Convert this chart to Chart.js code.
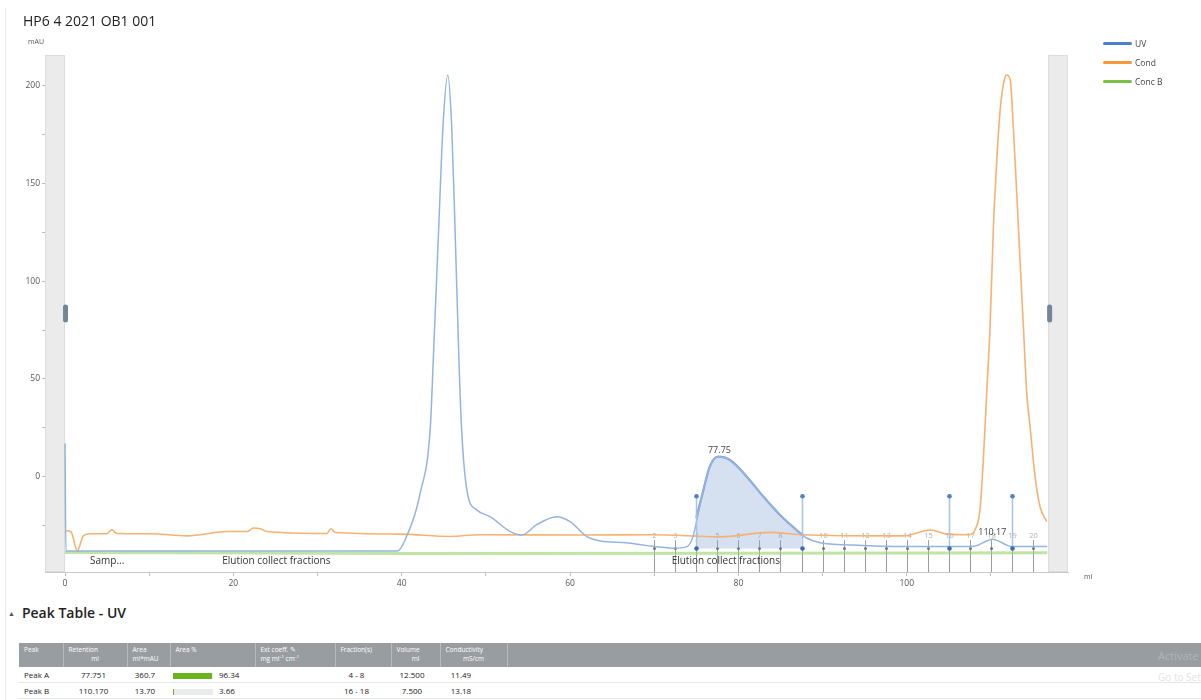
<!DOCTYPE html>
<html>
<head>
<meta charset="utf-8">
<title>HP6 4 2021 OB1 001</title>
<script src="https://cdn.jsdelivr.net/npm/chart.js@4.4.1/dist/chart.umd.min.js"></script>
<style>
  body { margin: 0; background: #fff; font-family: "Open Sans", "Noto Sans", sans-serif; color: #222; }
  #page { position: relative; width: 1201px; height: 700px; overflow: hidden; }
  #edge { position: absolute; left: 5px; top: 8px; width: 1px; height: 692px; background: #ececec; }
  #chart { position: absolute; left: 0; top: 0; }
  #title { position: absolute; left: 23px; top: 11px; font-size: 14px; color: #222; }
  .axisTitle { position: absolute; font-size: 7px; color: #555; }
  #legend { position: absolute; left: 1103px; top: 34px; font-size: 8.5px; color: #444; }
  #legend div { height: 19px; display: flex; align-items: center; }
  #legend .line { display: inline-block; width: 29px; height: 3px; border-radius: 2px; margin-right: 3px; }
  #ptTitle { position: absolute; left: 8px; top: 603px; font-size: 14px; font-weight: 600; color: #222; }
  #ptTitle .tri { font-size: 7px; margin-right: 7px; vertical-align: 2px; color: #555; }
  table { position: absolute; left: 19px; top: 643px; border-collapse: collapse; table-layout: fixed; width: 1182px; font-size: 8px; color: #222; }
  th { background: #9a9d9f; color: #fff; font-weight: normal; font-size: 6.5px; height: 20px; text-align: left; vertical-align: top;
       padding: 2px 5px; border-right: 1px solid #b8babc; line-height: 9px; white-space: nowrap; }
  th .u { display: block; text-align: center; }
  td { height: 15px; padding: 0 5px; border-bottom: 1px solid #e6e6e6; white-space: nowrap; text-align: center; }
  td.l { text-align: left; }
  .track { display: inline-block; width: 40px; height: 6px; background: #e9ebec; vertical-align: middle; margin-right: 6px; }
  .fillbar { display: block; height: 6px; background: #6ab31f; }
  .wm { position: absolute; left: 1158px; font-size: 11px; color: rgba(255,255,255,0.25); white-space: nowrap; }
</style>
</head>
<body>
<div id="page">
  <div id="edge"></div>
  <canvas id="chart" width="1201" height="600"></canvas>
  <div id="title">HP6 4 2021 OB1 001</div>
  <div class="axisTitle" style="left:28px; top:37px;">mAU</div>
  <div class="axisTitle" style="left:1084px; top:572px;">ml</div>
  <div id="legend"></div>
  <div id="ptTitle"><span class="tri">▲</span>Peak Table - UV</div>
  <table id="peakTable">
    <colgroup>
      <col style="width:44px"><col style="width:64px"><col style="width:43px"><col style="width:85px">
      <col style="width:80px"><col style="width:56px"><col style="width:49px"><col style="width:67px"><col>
    </colgroup>
    <thead>
      <tr>
        <th>Peak</th>
        <th>Retention<span class="u">ml</span></th>
        <th>Area<br>ml*mAU</th>
        <th>Area %</th>
        <th>Ext coeff. ✎<br>mg ml⁻¹ cm⁻¹</th>
        <th>Fraction(s)</th>
        <th>Volume<span class="u">ml</span></th>
        <th>Conductivity<span class="u">mS/cm</span></th>
        <th style="border-right:none"></th>
      </tr>
    </thead>
    <tbody id="peakRows"></tbody>
  </table>
  <div class="wm" style="top:648px;">Activate Windows</div>
  <div class="wm" style="top:670px; color:#e4e4e4; font-size:10px;">Go to Settings</div>
</div>

<script>
// series names and colours
const seriesNames = ['UV', 'Cond', 'Conc B'];
const legendColors = ['#4a80cc', '#f39a3c', '#7cc242'];
const curveColors = ['#94b4df', '#f6b272', 'rgba(150,210,105,0.6)'];

// UV curve (ml, mAU)
const uvMl = [0, 0.1, 10, 20, 30, 39.5, 40.4, 42.2, 43.4, 43.75, 44.4, 44.9, 45.47, 45.94, 46.33, 46.8, 47.1, 47.8,
  48.9, 50.5, 52.9, 54.3, 56.0, 58.4, 60.0, 62.0, 63.6, 66.7, 69.1, 72.3, 73.9, 74.6, 75.65, 76.6, 77.6, 79.0,
  81.0, 82.96, 84.95, 86.9, 88.1, 89.7, 93.6, 100, 105, 108, 110.2, 112.5, 116.7];
const uvMau = [17, -38.0, -38.0, -38.0, -38.0, -38.0, -32.4, -8.3, 25.4, 59.7, 127.8, 179, 205.6, 179, 127.8, 59.7, 25.4, -8.3,
  -17.0, -20.5, -28.1, -29.8, -24.7, -20.5, -23.0, -30.7, -32.9, -33.8, -35.3, -36.6, -35.8, -30.7, -10.2, 5.1, 10.2, 8.5,
  0, -10.2, -19.6, -27.3, -31.4, -33.8, -35.0, -35.8, -35.8, -35.6, -32.0, -35.8, -35.8];

// Peak A shaded region (fractions 4 - 8)
const peakAMl = [75, 75.65, 76.6, 77.6, 79.0, 81.0, 82.96, 84.95, 86.9, 87.5];
const peakAMau = [-21, -10.2, 5.1, 10.2, 8.5, 0, -10.2, -19.6, -27.3, -29.5];
const peakABase = -36.8;

// Cond curve
const condMl = [0, 0.7, 1.46, 2.17, 3.0, 4.95, 5.55, 6.14, 10.1, 14.5, 19.2, 21.6, 22.4, 23.2, 24.0, 31.1, 31.6, 32.1,
  39.8, 45.7, 49.3, 61.2, 69.9, 77.8, 83.8, 87.5, 99.6, 102.8, 104.75, 107.5, 108.1, 108.7, 109.1, 109.5, 109.9,
  110.3, 110.7, 111.1, 111.7, 111.9, 112.3, 112.66, 113.07, 113.46, 113.86, 114.26, 114.65, 115.25, 115.84, 116.63];
const condVal = [-27.7, -28.2, -37.9, -30.3, -29.2, -29.2, -27.2, -29.1, -29.2, -30.3, -28.1, -28.1, -26.3, -26.7, -28.1, -29.1, -26.7, -28.6,
  -29.4, -30.6, -29.7, -29.9, -29.7, -30.8, -28.5, -29.7, -30.3, -27.3, -29.4, -29.7, -27.3, -17, 8.5, 42.7, 76.8,
  128, 162, 187.7, 204.7, 205.6, 203, 179.1, 145, 110.9, 76.8, 42.7, 25.6, 0, -15.4, -23];

// Conc B curve
const concBMl = [0, 40, 80, 116.7];
const concBVal = [-38.8, -39.3, -39.2, -38.9];

// axes
const xTicks = [0, 10, 20, 30, 40, 50, 60, 70, 80, 90, 100, 110];
const yTicks = [-25, 0, 25, 50, 75, 100, 125, 150, 175, 200];
const runEndMl = 116.8;

// fractions and peak marks
const fractionMl = [70, 72.5, 75, 77.5, 80, 82.5, 85, 87.5, 90, 92.5, 95, 97.5, 100, 102.5, 105, 107.5, 110, 112.5, 115];
const fractionNames = ['2', '3', '4', '5', '6', '7', '8', '9', '10', '11', '12', '13', '14', '15', '16', '17', '18', '19', '20'];
const peakMarkerMl = [75, 87.5, 105, 112.5];
const peakLabelMl = [77.75, 110.17];
const peakLabelTop = [10.2, -32.0];
const peakLabels = ['77.75', '110.17'];
const eventMl = [5.0, 25.1, 78.5];
const eventNames = ['Samp...', 'Elution collect fractions', 'Elution collect fractions'];

// peak table
const tablePeak = ['Peak A', 'Peak B'];
const tableRetention = ['77.751', '110.170'];
const tableArea = ['360.7', '13.70'];
const tableAreaPct = [96.34, 3.66];
const tableFractions = ['4 - 8', '16 - 18'];
const tableVolume = ['12.500', '7.500'];
const tableCond = ['11.49', '13.18'];

function pts(xs, ys) {
  return xs.map((v, i) => ({ x: v, y: ys[i] }));
}

// legend
const legend = document.getElementById('legend');
seriesNames.forEach((n, i) => {
  legend.innerHTML += `<div><span class="line" style="background:${legendColors[i]}"></span>${n}</div>`;
});

// table rows
const rows = document.getElementById('peakRows');
tablePeak.forEach((p, i) => {
  rows.innerHTML += `<tr>
    <td class="l">${p}</td>
    <td style="padding-right:8px">${tableRetention[i]}</td>
    <td style="padding-right:12px">${tableArea[i]}</td>
    <td class="l" style="padding-left:3px"><span class="track"><span class="fillbar" style="width:${tableAreaPct[i] * 0.4}px"></span></span>${tableAreaPct[i].toFixed(2)}</td>
    <td></td>
    <td style="padding-right:18px">${tableFractions[i]}</td>
    <td style="padding-right:12px">${tableVolume[i]}</td>
    <td style="padding-right:30px">${tableCond[i]}</td>
    <td></td>
  </tr>`;
});

const overlay = {
  id: 'overlay',
  beforeDatasetsDraw(chart) {
    const { ctx, chartArea: a, scales: { x, y } } = chart;
    ctx.save();
    // zoom range bars
    const x0 = x.getPixelForValue(0);
    const xr = x.getPixelForValue(runEndMl);
    ctx.fillStyle = '#ebebeb';
    ctx.fillRect(a.left, a.top, x0 - a.left, a.bottom - a.top);
    ctx.fillRect(xr, a.top, a.right - xr, a.bottom - a.top);
    ctx.strokeStyle = '#dcdcdc';
    ctx.lineWidth = 1;
    ctx.strokeRect(a.left + 0.5, a.top + 0.5, x0 - a.left - 1, a.bottom - a.top - 1);
    ctx.strokeRect(xr + 0.5, a.top + 0.5, a.right - xr - 1, a.bottom - a.top - 1);
    const mid = (a.top + a.bottom) / 2;
    ctx.fillStyle = '#74859a';
    ctx.beginPath();
    ctx.roundRect(x0 - 2, mid - 9, 5, 18, 2.5);
    ctx.roundRect(xr - 1, mid - 9, 5, 18, 2.5);
    ctx.fill();

    // fraction lines
    ctx.font = '7.5px "Open Sans"';
    ctx.textAlign = 'center';
    ctx.textBaseline = 'middle';
    fractionMl.forEach((f, i) => {
      const px = Math.round(x.getPixelForValue(f)) + 0.5;
      ctx.strokeStyle = '#9c9c9c';
      ctx.beginPath();
      ctx.moveTo(px, y.getPixelForValue(-32.5));
      ctx.lineTo(px, a.bottom);
      ctx.stroke();
      ctx.fillStyle = '#b0b0b0';
      ctx.fillText(fractionNames[i], px, y.getPixelForValue(-30.3));
      ctx.fillStyle = '#66768a';
      ctx.beginPath();
      ctx.arc(px, y.getPixelForValue(peakABase), 1.5, 0, Math.PI * 2);
      ctx.fill();
    });

    // run log events
    ctx.font = '10px "Open Sans"';
    ctx.fillStyle = '#333';
    eventNames.forEach((t, i) => {
      ctx.fillText(t, x.getPixelForValue(eventMl[i]), y.getPixelForValue(-43.2));
    });
    ctx.restore();
  },
  afterDatasetsDraw(chart) {
    const { ctx, scales: { x, y } } = chart;
    ctx.save();
    peakMarkerMl.forEach(m => {
      const px = Math.round(x.getPixelForValue(m)) + 0.5;
      const top = y.getPixelForValue(-10);
      const bot = y.getPixelForValue(peakABase);
      ctx.strokeStyle = '#a9c3e7';
      ctx.lineWidth = 1.5;
      ctx.beginPath();
      ctx.moveTo(px, top);
      ctx.lineTo(px, bot);
      ctx.stroke();
      ctx.fillStyle = '#4f81c7';
      ctx.beginPath();
      ctx.arc(px, top, 2.3, 0, Math.PI * 2);
      ctx.fill();
      ctx.fillStyle = '#3c6cb2';
      ctx.beginPath();
      ctx.arc(px, bot, 2.3, 0, Math.PI * 2);
      ctx.fill();
    });
    ctx.font = '9px "Open Sans"';
    ctx.fillStyle = '#444';
    ctx.textAlign = 'center';
    ctx.textBaseline = 'bottom';
    peakLabels.forEach((t, i) => {
      ctx.fillText(t, x.getPixelForValue(peakLabelMl[i]), y.getPixelForValue(peakLabelTop[i]) - 2);
    });
    ctx.restore();
  }
};

Chart.defaults.font.family = '"Open Sans", "Noto Sans", sans-serif';

new Chart(document.getElementById('chart'), {
  type: 'line',
  data: {
    datasets: [
      { label: 'UV', data: pts(uvMl, uvMau), borderColor: curveColors[0], borderWidth: 1.5 },
      { label: 'Cond', data: pts(condMl, condVal), borderColor: curveColors[1], borderWidth: 1.6 },
      { label: 'Conc B', data: pts(concBMl, concBVal), borderColor: curveColors[2], borderWidth: 3 },
      { label: 'Peak A', data: pts(peakAMl, peakAMau), borderColor: '#7c9fd6', borderWidth: 2.2,
        backgroundColor: 'rgba(125,158,208,0.32)', fill: { value: peakABase } }
    ]
  },
  options: {
    responsive: false,
    animation: false,
    devicePixelRatio: 1,
    layout: { padding: { left: 0, right: 133, top: 55, bottom: 0 } },
    plugins: { legend: { display: false }, tooltip: { enabled: false } },
    elements: {
      point: { radius: 0 },
      line: { cubicInterpolationMode: 'monotone' }
    },
    scales: {
      x: {
        type: 'linear',
        min: -2.38,
        max: 119.16,
        afterBuildTicks: s => { s.ticks = xTicks.map(v => ({ value: v })); },
        afterFit: s => { s.height = 28; },
        ticks: {
          autoSkip: false, maxRotation: 0, padding: 2, color: '#555', font: { size: 8.5 },
          callback: v => (v % 20 === 0 ? v : '')
        },
        grid: { drawOnChartArea: false, tickLength: 4, color: '#bdbdbd' },
        border: { color: '#c9c9c9' }
      },
      y: {
        type: 'linear',
        min: -48.8,
        max: 215.8,
        afterBuildTicks: s => { s.ticks = yTicks.map(v => ({ value: v })); },
        afterFit: s => { s.width = 45; },
        ticks: {
          autoSkip: false, padding: 2, color: '#555', font: { size: 8.5 },
          callback: v => (v % 50 === 0 ? v : '')
        },
        grid: { drawOnChartArea: false, tickLength: 3, color: '#bdbdbd' },
        border: { color: '#c9c9c9' }
      }
    }
  },
  plugins: [overlay]
});
</script>
</body>
</html>
